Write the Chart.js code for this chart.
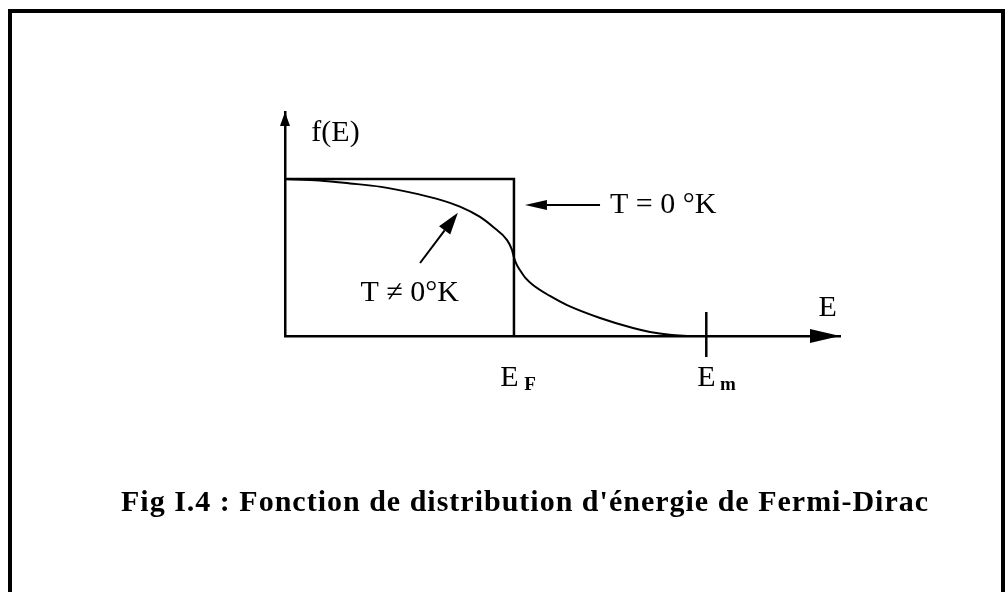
<!DOCTYPE html>
<html lang="fr">
<head>
    <meta charset="UTF-8">
    <title>Fonction de distribution de Fermi-Dirac</title>
    <script src="https://cdn.jsdelivr.net/npm/chart.js"></script>
    <style>
        body { margin: 0; background: #fff; }
        .page { position: relative; width: 1008px; height: 592px; overflow: hidden; }
        .cadre {
            position: absolute; left: 8px; top: 9px; width: 989px; height: 600px;
            border: 4px solid #000;
        }
        #graphe { position: absolute; left: 0; top: 0; }
        .legende {
            position: absolute; left: 121px; top: 486px;
            font: bold 30px "Liberation Serif", "DejaVu Serif", serif;
            letter-spacing: 1px;
            line-height: 30px; color: #000; white-space: nowrap;
        }
    </style>
</head>
<body>
    <div class="page">
        <div class="cadre"></div>
        <canvas id="graphe" width="1008" height="592"></canvas>
        <div class="legende">Fig I.4 : Fonction de distribution d'énergie de Fermi-Dirac</div>
    </div>

    <script>
        // energies in units of E_F
        const energie = [0, 0.15, 0.284, 0.42, 0.546, 0.66, 0.764, 0.85, 0.908, 0.97, 0.991, 1.0,
                         1.012, 1.026, 1.05, 1.083, 1.157, 1.232, 1.376, 1.52, 1.594, 1.68, 1.77];
        const fChaud = [1.0, 0.99, 0.972, 0.95, 0.915, 0.875, 0.824, 0.76, 0.696, 0.611, 0.55, 0.50,
                        0.455, 0.42, 0.37, 0.325, 0.255, 0.197, 0.115, 0.051, 0.026, 0.008, 0];

        // T = 0 K : step function
        const energieMarche = [0, 1, 1];
        const fMarche = [1, 1, 0];

        // marked energies on the E axis
        const niveauFermi = 1;
        const niveauMax = 1.84;

        // axis limits (arrow tips)
        const eMax = 2.424;
        const fMax = 1.427;

        const toPoints = (xs, ys) => xs.map((v, i) => ({ x: v, y: ys[i] }));

        function fleche(ctx, x1, y1, x2, y2, longueur, demi) {
            const ang = Math.atan2(y2 - y1, x2 - x1);
            const bx = x2 - longueur * Math.cos(ang);
            const by = y2 - longueur * Math.sin(ang);
            ctx.beginPath();
            ctx.moveTo(x1, y1);
            ctx.lineTo(bx, by);
            ctx.stroke();
            ctx.beginPath();
            ctx.moveTo(x2, y2);
            ctx.lineTo(bx + demi * Math.sin(ang), by - demi * Math.cos(ang));
            ctx.lineTo(bx - demi * Math.sin(ang), by + demi * Math.cos(ang));
            ctx.closePath();
            ctx.fill();
        }

        const decor = {
            id: 'decor',
            afterDraw(chart) {
                const { ctx } = chart;
                const sx = chart.scales.x, sy = chart.scales.y;
                const px = v => sx.getPixelForValue(v);
                const py = v => sy.getPixelForValue(v);
                ctx.save();
                ctx.fillStyle = '#000';
                ctx.strokeStyle = '#000';

                // axis arrow heads
                ctx.lineWidth = 2.5;
                fleche(ctx, px(0), py(fMax) + 14, px(0), py(fMax), 14, 5);
                fleche(ctx, px(eMax) - 30, py(0), px(eMax), py(0), 30, 7);

                // tick at E_m
                ctx.beginPath();
                ctx.moveTo(px(niveauMax), py(0.153));
                ctx.lineTo(px(niveauMax), py(-0.134));
                ctx.stroke();

                // annotation arrows
                ctx.lineWidth = 2;
                fleche(ctx, px(1.376), py(0.834), px(1.048), py(0.834), 22, 5);
                fleche(ctx, px(0.59), py(0.465), px(0.755), py(0.785), 22, 7);

                // labels
                const serif = '"Liberation Serif", "DejaVu Serif", serif';
                ctx.textBaseline = 'middle';
                ctx.textAlign = 'left';
                ctx.font = '30px ' + serif;
                ctx.fillText('f(E)', px(0.115), py(1.293));
                ctx.fillText('T = 0 °K', px(1.419), py(0.834));
                ctx.fillText('T ≠ 0°K', px(0.33), py(0.274));
                ctx.fillText('E', px(2.33), py(0.178));
                ctx.fillText('E', px(0.94), py(-0.267));
                ctx.fillText('E', px(1.8), py(-0.267));
                ctx.font = 'bold 19px ' + serif;
                ctx.fillText('F', px(1.045), py(-0.31));
                ctx.fillText('m', px(1.9), py(-0.31));
                ctx.restore();
            }
        };

        new Chart(document.getElementById('graphe'), {
            type: 'line',
            data: {
                datasets: [
                    {
                        label: 'T = 0 °K',
                        data: toPoints(energieMarche, fMarche),
                        borderColor: '#000',
                        borderWidth: 2.5,
                        pointRadius: 0,
                        tension: 0,
                        clip: false
                    },
                    {
                        label: 'T ≠ 0°K',
                        data: toPoints(energie, fChaud),
                        borderColor: '#000',
                        borderWidth: 2,
                        pointRadius: 0,
                        cubicInterpolationMode: 'monotone',
                        clip: false
                    }
                ]
            },
            options: {
                responsive: false,
                animation: false,
                devicePixelRatio: 1,
                layout: { padding: { left: 285, right: 168, top: 112, bottom: 256 } },
                plugins: { legend: { display: false }, tooltip: { enabled: false } },
                scales: {
                    x: {
                        type: 'linear', min: 0, max: eMax,
                        grid: { display: false },
                        ticks: { display: false },
                        border: { display: true, color: '#000', width: 2.5 },
                        afterFit: s => { s.height = 0; }
                    },
                    y: {
                        type: 'linear', min: 0, max: fMax,
                        grid: { display: false },
                        ticks: { display: false },
                        border: { display: true, color: '#000', width: 2.5 },
                        afterFit: s => { s.width = 0; }
                    }
                }
            },
            plugins: [decor]
        });
    </script>
</body>
</html>
